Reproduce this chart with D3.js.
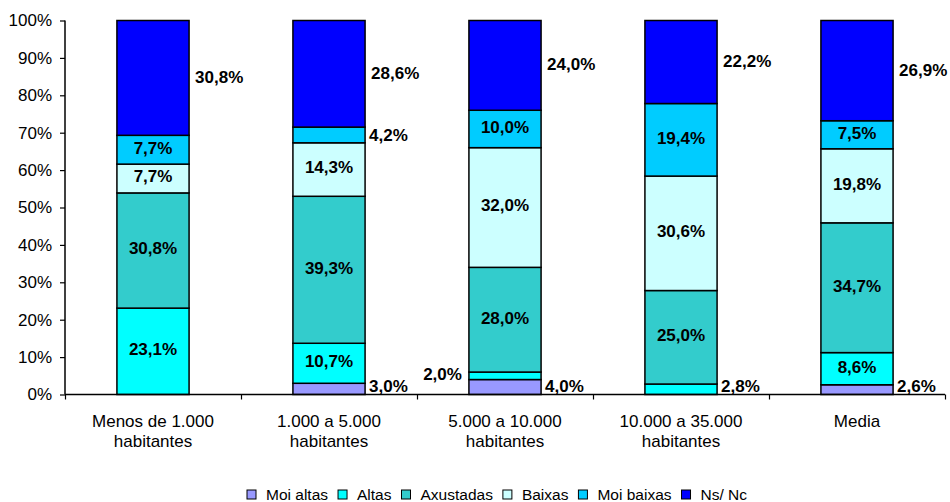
<!DOCTYPE html>
<html><head><meta charset="utf-8">
<script src="https://cdn.jsdelivr.net/npm/d3@7/dist/d3.min.js"></script>
<style>body{margin:0;background:#fff}svg{display:block}</style>
</head><body><svg id="c" width="950" height="502"></svg>
<script>
const categories = [["Menos de 1.000","habitantes"],["1.000 a 5.000","habitantes"],["5.000 a 10.000","habitantes"],["10.000 a 35.000","habitantes"],["Media"]];
const seriesNames = ["Moi altas","Altas","Axustadas","Baixas","Moi baixas","Ns/ Nc"];
const moiAltas  = [0,   3.0, 4.0, 0,   2.6];
const altas     = [23.1,10.7,2.0, 2.8, 8.6];
const axustadas = [30.8,39.3,28.0,25.0,34.7];
const baixas    = [7.7, 14.3,32.0,30.6,19.8];
const moiBaixas = [7.7, 4.2, 10.0,19.4,7.5];
const nsNc      = [30.8,28.6,24.0,22.2,26.9];
const yTicks = [0,10,20,30,40,50,60,70,80,90,100];
const colors = ["#9999FF","#00FFFF","#33CCCC","#CCFFFF","#00CCFF","#0000FF"];
const seriesValues = [moiAltas, altas, axustadas, baixas, moiBaixas, nsNc];

const svg = d3.select("#c");
const FONT = "Liberation Sans, Arial, sans-serif";
const x = d3.scaleBand().domain(d3.range(categories.length)).range([65, 945]).paddingInner(0.59).paddingOuter(0.295);
const y = d3.scaleLinear().domain([0,100]).range([394.5, 20.5]);

const fmt = v => v.toFixed(1).replace(".", ",") + "%";
const labels = [];
categories.forEach((c, i) => {
  let acc = 0;
  let prevOutsideRight = false;
  seriesValues.forEach((vals, s) => {
    const v = vals[i];
    if (v <= 0) { prevOutsideRight = false; return; }
    const y0 = acc, y1 = acc + v; acc = y1;
    const top = Math.min(y1, 100);
    svg.append("rect")
      .attr("x", x(i)).attr("width", x.bandwidth())
      .attr("y", y(top)).attr("height", y(y0) - y(top))
      .attr("fill", colors[s]).attr("stroke", "#000").attr("stroke-width", 1.5);
    const cy = y((y0 + top) / 2);
    if (s === seriesValues.length - 1) {
      labels.push({x: x(i) + x.bandwidth() + 6, y: cy - 1, t: fmt(v), a: "start"});
      prevOutsideRight = false;
    } else if (v < 5) {
      if (prevOutsideRight) {
        labels.push({x: x(i) - 7, y: cy - 2, t: fmt(v), a: "end"});
        prevOutsideRight = false;
      } else {
        labels.push({x: x(i) + x.bandwidth() + 4, y: Math.min(cy, 386), t: fmt(v), a: "start"});
        prevOutsideRight = true;
      }
    } else {
      labels.push({x: x(i) + x.bandwidth() / 2, y: cy - 2, t: fmt(v), a: "middle"});
      prevOutsideRight = false;
    }
  });
});

// axes
const yAxis = d3.axisLeft(y).tickValues(yTicks).tickFormat(d => d + "%").tickSize(5).tickPadding(8);
const gy = svg.append("g").attr("transform", "translate(65,0)").call(yAxis);
gy.select(".domain").attr("stroke", "#000").attr("stroke-width", 1.5).attr("d", "M0,20.5V394.5");
gy.selectAll(".tick line").attr("stroke", "#000").attr("stroke-width", 1.2);
gy.selectAll(".tick text").attr("font-family", FONT).attr("font-size", 17).attr("fill", "#000");

const xb = d3.scaleLinear().domain([0, categories.length]).range([65, 945]);
const xAxis = d3.axisBottom(xb).tickValues(d3.range(categories.length + 1)).tickSize(5).tickFormat("");
const gx = svg.append("g").attr("transform", "translate(0,394.5)").call(xAxis);
gx.select(".domain").attr("stroke", "#000").attr("stroke-width", 1.5).attr("d", "M65,0H945");
gx.selectAll(".tick line").attr("stroke", "#000").attr("stroke-width", 1.2);

// category labels
categories.forEach((c, i) => {
  const t = svg.append("text").attr("x", x(i) + x.bandwidth()/2).attr("y", 427)
    .attr("text-anchor", "middle").attr("font-family", FONT).attr("font-size", 17).attr("fill", "#000");
  c.forEach((line, k) => t.append("tspan").attr("x", x(i) + x.bandwidth()/2).attr("dy", k ? 20 : 0).text(line));
});

// data labels
labels.forEach(l => {
  svg.append("text").attr("x", l.x).attr("y", l.y).attr("dy", "0.35em")
    .attr("text-anchor", l.a).attr("font-family", FONT).attr("font-size", 17)
    .attr("font-weight", "bold").attr("fill", "#000").text(l.t);
});

// legend
const lg = svg.append("g");
let lx = 0;
seriesNames.forEach((n, s) => {
  const g = lg.append("g").attr("transform", `translate(${lx},0)`);
  g.append("rect").attr("x", 0).attr("y", 490).attr("width", 9).attr("height", 9)
    .attr("fill", colors[s]).attr("stroke", "#000").attr("stroke-width", 1);
  const t = g.append("text").attr("x", 19).attr("y", 500).attr("font-family", FONT).attr("font-size", 15.5).attr("fill", "#000").text(n);
  lx += 19 + t.node().getComputedTextLength() + 10;
});
lg.attr("transform", `translate(247,0)`);
</script>
</body></html>
